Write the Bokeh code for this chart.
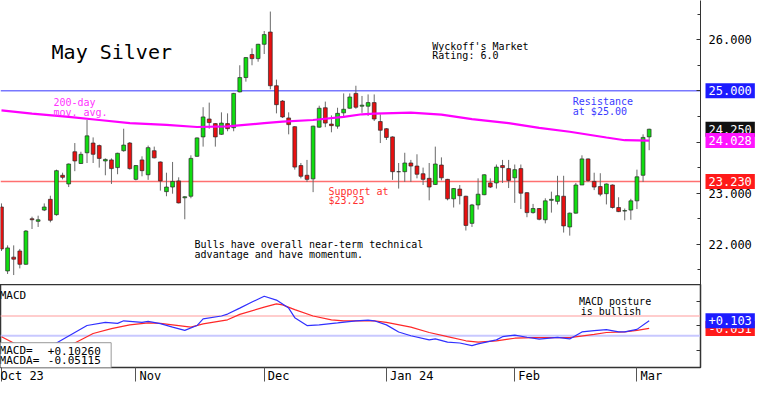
from bokeh.plotting import figure
from bokeh.models import (Range1d, LinearAxis, FixedTicker, PrintfTickFormatter,
                          Label, Span, ColumnDataSource)
from bokeh.layouts import column
from bokeh.embed import file_html
from bokeh.resources import INLINE

FONT = "DejaVu Sans Mono"

# ---------------- data (daily candles, Oct 2 2023 .. Mar 5 2024) ----------------
opens = [22.73, 21.48, 21.75, 21.87, 21.61, 22.50, 22.45, 22.67, 22.88, 22.58,
         23.35, 23.18, 23.81, 23.58, 23.79, 23.98, 23.93, 23.63, 23.65, 23.50,
         23.83, 23.98, 23.27, 23.65, 23.36, 23.83, 23.61, 23.03, 23.12, 23.24,
         22.91, 22.94, 23.72, 24.10, 24.45, 24.36, 24.15, 24.36, 24.28, 24.98,
         25.26, 25.71, 25.63, 25.91, 26.15, 25.10, 24.80, 24.47, 24.30, 23.54,
         23.35, 23.28, 24.29, 24.67, 24.35, 24.31, 24.57, 24.66, 24.95, 24.70,
         24.70, 24.77, 24.40, 24.26, 24.10, 23.42, 23.42, 23.59, 23.53, 23.38,
         23.29, 23.17, 23.55, 23.27, 22.89, 23.08, 22.94, 22.41, 22.77, 22.97,
         23.20, 23.20, 23.54, 23.48, 23.30, 23.48, 23.01, 22.62, 22.70, 22.48,
         22.86, 22.84, 22.94, 22.34, 22.61, 23.16, 23.67, 23.23, 23.13, 22.99,
         23.16, 22.72, 22.65, 22.67, 22.85, 23.35, 24.10]
highs = [22.80, 21.98, 21.98, 21.91, 22.28, 22.54, 22.56, 22.80, 22.95, 23.46,
         23.40, 23.58, 23.98, 23.81, 24.43, 24.09, 23.95, 23.68, 23.68, 23.79,
         24.26, 24.00, 23.55, 23.72, 23.93, 23.91, 23.62, 23.40, 23.61, 23.31,
         22.94, 23.74, 24.09, 24.68, 24.77, 24.37, 24.58, 24.56, 24.96, 25.50,
         25.66, 25.83, 25.92, 26.17, 26.55, 25.22, 24.82, 24.58, 24.31, 23.59,
         23.65, 24.32, 24.71, 24.79, 24.52, 24.67, 24.95, 24.95, 25.10, 24.90,
         24.93, 24.93, 24.54, 24.27, 24.11, 23.59, 23.79, 23.65, 23.76, 23.50,
         23.59, 23.91, 23.70, 23.28, 23.10, 23.16, 22.95, 22.79, 23.29, 23.37,
         23.29, 23.56, 23.65, 23.65, 23.56, 23.56, 23.02, 22.79, 22.71, 22.90,
         23.03, 23.34, 23.34, 22.62, 23.20, 23.74, 23.68, 23.40, 23.39, 23.19,
         23.17, 22.92, 22.70, 22.89, 23.46, 24.15, 24.26]
lows = [21.87, 21.42, 21.40, 21.53, 21.60, 22.30, 22.34, 22.65, 22.43, 22.56,
        23.27, 23.12, 23.43, 23.57, 23.59, 23.59, 23.50, 23.35, 23.18, 23.37,
        23.81, 23.46, 23.25, 23.33, 23.26, 23.68, 23.05, 22.94, 22.99, 22.80,
        22.49, 22.90, 23.71, 23.91, 24.26, 23.91, 24.14, 24.21, 24.21, 24.97,
        25.18, 25.50, 25.57, 25.72, 25.03, 24.56, 24.47, 24.15, 23.46, 23.29,
        23.22, 23.02, 24.28, 24.29, 24.19, 24.26, 24.47, 24.65, 24.65, 24.57,
        24.51, 24.41, 23.98, 24.04, 23.26, 23.09, 23.22, 23.22, 23.29, 23.16,
        22.86, 23.16, 23.25, 22.86, 22.72, 22.78, 22.27, 22.34, 22.68, 22.96,
        23.10, 23.09, 23.20, 23.10, 22.81, 22.69, 22.53, 22.60, 22.47, 22.41,
        22.62, 22.78, 22.23, 22.17, 22.60, 23.16, 23.22, 23.06, 22.94, 22.78,
        22.70, 22.63, 22.47, 22.48, 22.69, 23.22, 23.84]
closes = [21.91, 21.93, 21.71, 21.61, 22.26, 22.48, 22.48, 22.73, 22.47, 23.44,
          23.31, 23.57, 23.63, 23.76, 24.12, 23.76, 23.68, 23.66, 23.48, 23.78,
          23.94, 23.48, 23.54, 23.44, 23.89, 23.69, 23.24, 23.12, 23.23, 22.81,
          22.93, 23.68, 24.08, 24.49, 24.38, 24.10, 24.37, 24.26, 24.95, 25.26,
          25.65, 25.63, 25.91, 26.10, 25.10, 24.73, 24.49, 24.34, 23.51, 23.33,
          23.27, 24.31, 24.66, 24.37, 24.32, 24.56, 24.64, 24.88, 24.68, 24.72,
          24.77, 24.45, 24.23, 24.09, 23.42, 23.42, 23.59, 23.53, 23.37, 23.27,
          23.12, 23.57, 23.30, 22.89, 23.09, 22.95, 22.37, 22.77, 22.98, 23.36,
          23.12, 23.51, 23.50, 23.25, 23.46, 23.00, 22.62, 22.70, 22.49, 22.85,
          22.88, 22.95, 22.36, 22.61, 23.16, 23.67, 23.25, 23.12, 22.98, 23.18,
          22.72, 22.64, 22.66, 22.85, 23.32, 24.09, 24.25]

# 200-day moving average (candle index, value)
ma_idx = [0, 5, 11, 16, 21, 27, 32, 37, 43, 46, 51, 56, 59, 61, 67, 72, 77, 83,
          88, 93, 99, 102, 106]
ma_val = [24.617, 24.555, 24.492, 24.430, 24.368, 24.336, 24.293, 24.305, 24.368,
          24.398, 24.430, 24.492, 24.542, 24.555, 24.574, 24.536, 24.449, 24.368,
          24.275, 24.200, 24.088, 24.035, 24.028]

# MACD (blue) and MACDA (red): candle index, value
macd_idx = [0, 3, 6, 9, 14, 17, 19, 20, 23, 24, 26, 28, 30, 32, 33, 36, 37, 39,
            41, 43, 45, 47, 48, 50, 52, 55, 58, 60, 61, 63, 65, 67, 70, 71, 73,
            75, 77, 78, 81, 82, 84, 86, 88, 91, 93, 95, 97, 99, 101, 102, 104, 106]
macd_val = [-0.418, -0.612, -0.555, -0.347, 0.007, 0.071, 0.051, 0.103, 0.071,
            0.090, 0.045, -0.026, -0.090, 0.007, 0.142, 0.200, 0.239, 0.360,
            0.483, 0.600, 0.523, 0.360, 0.167, 0.007, 0.020, 0.059, 0.103, 0.117,
            0.103, 0.020, -0.123, -0.200, -0.283, -0.264, -0.328, -0.347, -0.399,
            -0.366, -0.283, -0.219, -0.186, -0.231, -0.270, -0.231, -0.264,
            -0.123, -0.096, -0.076, -0.123, -0.123, -0.071, 0.1026]
macda_idx = [0, 2, 5, 8, 12, 15, 18, 21, 24, 26, 29, 31, 33, 37, 39, 43, 45, 46,
             48, 51, 54, 56, 59, 61, 63, 67, 70, 73, 76, 78, 81, 84, 87, 90, 93,
             97, 99, 102, 104, 106]
macda_val = [-0.219, -0.347, -0.496, -0.496, -0.347, -0.154, -0.057, 0.020, 0.059,
             0.051, 0.007, -0.026, 0.040, 0.123, 0.233, 0.380, 0.445, 0.426,
             0.329, 0.200, 0.123, 0.103, 0.103, 0.103, 0.071, -0.026, -0.134,
             -0.219, -0.302, -0.328, -0.302, -0.250, -0.239, -0.239, -0.239,
             -0.173, -0.134, -0.123, -0.090, -0.05115]

month_labels = ["Oct 23", "Nov", "Dec", "Jan 24", "Feb", "Mar"]
month_idx = [0, 22, 43, 63, 84, 104]

price_ticks = [22, 23, 24, 25, 26]
price_minor = [21.5, 22.5, 23.5, 24.5, 25.5, 26.5]
macd_ticks = [-0.5, 0.0, 0.5]
macd_levels = [0.2, -0.2]

resistance = 25.00
support = 23.23
ma_last = 24.028
last_close = closes[-1]
macd_last = 0.10260
macda_last = -0.05115
rating = "6.0"

# ---------------- figures ----------------
GREEN = "#10dd10"
RED = "#e81010"
x_rng = Range1d(-0.16, 114.4)

common = dict(frame_width=700, x_range=x_rng, output_backend="svg",
              toolbar_location=None, min_border_left=0, min_border_right=52,
              min_border_top=0, min_border_bottom=0,
              x_axis_location=None, y_axis_location=None,
              background_fill_color="white", border_fill_color="white")

p1 = figure(frame_height=284, y_range=Range1d(21.215, 26.766), **common)
p1.outline_line_color = None
p1.grid.visible = False

yax = LinearAxis(ticker=FixedTicker(ticks=price_ticks, minor_ticks=price_minor),
                 formatter=PrintfTickFormatter(format="%.3f"),
                 major_tick_in=4, major_tick_out=0, minor_tick_in=3, minor_tick_out=0,
                 major_label_standoff=8, axis_line_color="#333333",
                 major_tick_line_color="#333333", minor_tick_line_color="#333333",
                 major_label_text_font=FONT, major_label_text_font_size="12px",
                 major_label_text_color="black")
p1.add_layout(yax, "right")

p1.add_layout(Span(location=resistance, dimension="width", line_color="#7878ff",
                   line_width=1.5, level="underlay"))
p1.add_layout(Span(location=support, dimension="width", line_color="#ff7070",
                   line_width=1.5, level="underlay"))

idx = list(range(len(opens)))
colors = [GREEN if c > o else (RED if c < o else "#555555") for o, c in zip(opens, closes)]
src = ColumnDataSource(dict(
    x=idx, high=highs, low=lows,
    top=[max(o, c) for o, c in zip(opens, closes)],
    bottom=[min(o, c) for o, c in zip(opens, closes)],
    color=colors))
p1.segment(x0="x", y0="high", x1="x", y1="low", source=src,
           line_color="#6a6a6a", line_width=1)
p1.vbar(x="x", width=0.62, top="top", bottom="bottom", source=src,
        fill_color="color", line_color="#2a2a2a", line_width=0.7)
p1.line(ma_idx, ma_val, line_color="#ff00ff", line_width=2.2)


def note(fig, x, y, text, color="black", size="10px", lift=2):
    fig.add_layout(Label(x=x, y=y, y_offset=lift, text=text, text_color=color,
                         text_font=FONT, text_font_size=size,
                         text_baseline="alphabetic", text_align="left"))


def side_box(fig, y, text, bg):
    # placed in the right side panel so it is not clipped to the frame
    fig.add_layout(Label(x=x_rng.end, y=y, text=text, text_color="white",
                         text_font=FONT, text_font_size="12px",
                         text_baseline="middle", text_align="left",
                         x_offset=5, background_fill_color=bg, padding=3), "right")


note(p1, 8.2, 25.68, "May Silver", size="20px", lift=4)
note(p1, 70.5, 25.831, "Wyckoff's Market")
note(p1, 70.5, 25.645, "Rating: " + rating)
note(p1, 8.5, 24.729, "200-day", color="#ff33ff")
note(p1, 8.5, 24.532, "mov. avg.", color="#ff33ff")
note(p1, 93.5, 24.747, "Resistance", color="#3a3aff")
note(p1, 93.5, 24.560, "at $%.2f" % resistance, color="#3a3aff")
note(p1, 53.5, 23.00, "Support at", color="#ff3030")
note(p1, 53.5, 22.822, "$%.2f" % support, color="#ff3030")
note(p1, 31.6, 21.953, "Bulls have overall near-term technical")
note(p1, 31.6, 21.766, "advantage and have momentum.")

side_box(p1, resistance, "%.3f" % resistance, "#1c1cff")
side_box(p1, last_close, "%.3f" % last_close, "#111111")
side_box(p1, ma_last, "%.3f" % ma_last, "#ff14ff")
side_box(p1, support, "%.3f" % support, "#ff1a1a")

# ---------------- MACD panel ----------------
p2 = figure(frame_height=83, y_range=Range1d(-0.843, 0.838), **common)
p2.grid.visible = False
p2.outline_line_color = "#333333"
p2.outline_line_width = 1.5

overrides = {}
for i, t in zip(month_idx, month_labels):
    overrides[i] = t if i == month_idx[0] else "\u00a0" * (len(t) + 1) + t
xax = LinearAxis(ticker=FixedTicker(ticks=month_idx, minor_ticks=[]),
                 major_label_overrides=overrides,
                 axis_line_color=None, major_tick_in=0, major_tick_out=14,
                 major_tick_line_color="#555555", major_label_standoff=-13,
                 major_label_text_font=FONT, major_label_text_font_size="12px",
                 major_label_text_color="black")
p2.add_layout(xax, "below")

yax2 = LinearAxis(ticker=FixedTicker(ticks=macd_ticks, minor_ticks=[]),
                  major_label_overrides={t: "" for t in macd_ticks},
                  major_tick_in=4, major_tick_out=0, axis_line_color="#333333",
                  major_tick_line_color="#333333")
p2.add_layout(yax2, "right")

p2.add_layout(Span(location=macd_levels[0], dimension="width",
                   line_color="#ffbcbc", line_width=1.5, level="underlay"))
p2.add_layout(Span(location=macd_levels[1], dimension="width",
                   line_color="#c8c8ff", line_width=2, level="underlay"))

p2.line(macda_idx, macda_val, line_color="#ff2828", line_width=1.2)
p2.line(macd_idx, macd_val, line_color="#3030ff", line_width=1.2)

p2.quad(left=-1, right=17.95, top=-0.341, bottom=-1.0, fill_color="white",
        line_color="#999999", line_width=1)

note(p2, -0.3, 0.573, "MACD", size="11px")
note(p2, 94.5, 0.451, "MACD posture")
note(p2, 94.8, 0.258, "is bullish")
note(p2, -0.32, -0.525, "MACD=", size="11px", lift=1)
note(p2, 7.58, -0.525, "%+.5f" % macd_last, size="11px", lift=1)
note(p2, -0.32, -0.714, "MACDA=", size="11px", lift=1)
note(p2, 7.58, -0.714, "%+.5f" % macda_last, size="11px", lift=1)

side_box(p2, macda_last, "%+.3f" % macda_last, "#ff1a1a")
side_box(p2, macd_last, "%+.3f" % macd_last, "#1c1cff")

layout = column(p1, p2, spacing=0)
open("out.html", "w").write(file_html(layout, INLINE))
